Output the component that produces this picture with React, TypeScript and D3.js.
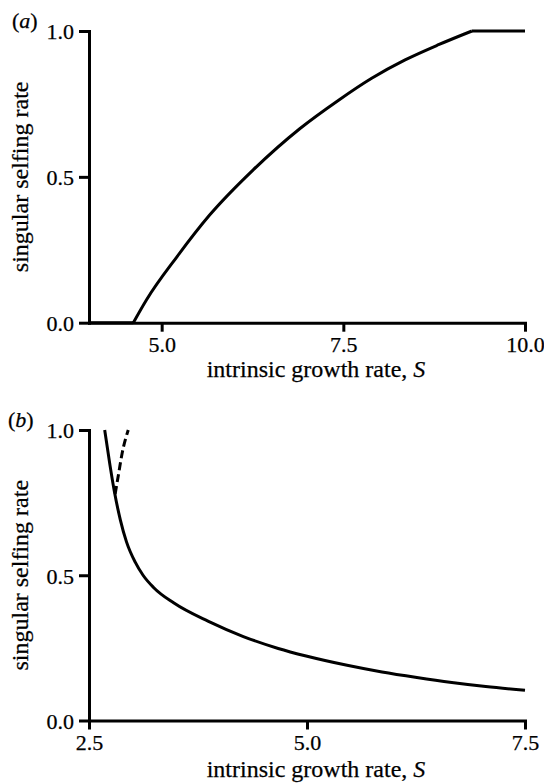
import React, { useRef, useEffect } from 'react';
import * as d3 from 'd3';

// panel (a): singular selfing rate vs intrinsic growth rate
const sA = [4.0, 4.61, 4.79, 5.21, 5.66, 6.26, 6.9, 7.43, 7.89, 8.35, 8.81, 9.27, 10.0];
const rateA = [0, 0, 0.078, 0.226, 0.369, 0.524, 0.665, 0.762, 0.838, 0.901, 0.953, 1.0, 1.0];

// panel (b): solid branch and dashed branch
const sB = [2.68, 2.74, 2.79, 2.86, 2.93, 3.03, 3.12, 3.24, 3.47, 3.87, 4.27, 4.67, 4.99, 5.46, 5.86, 6.26, 6.66, 7.05, 7.5];
const rateB = [1.0, 0.88, 0.79, 0.69, 0.615, 0.545, 0.5, 0.458, 0.405, 0.341, 0.289, 0.248, 0.222, 0.19, 0.167, 0.148, 0.131, 0.117, 0.104];
const sBDashed = [2.8, 2.84, 2.88, 2.95];
const rateBDashed = [0.78, 0.85, 0.92, 1.0];

const xTicksA = [5.0, 7.5, 10.0];
const xTicksB = [2.5, 5.0, 7.5];
const yTicks = [0, 0.5, 1.0];

const FONT = 'Liberation Serif, DejaVu Serif, serif';
const TICK_FS = 22;
const LABEL_FS = 24;
const INK = 0.25; // a touch of stroke so the serif text is as heavy as the scan

type Pt = [number, number];
const zip = (xs: number[], ys: number[]): Pt[] => xs.map((x, i) => [x, ys[i]]);

interface PanelProps {
    tag: string;
    tagX: number;
    xDomain: [number, number];
    xTicks: number[];
    top: number;
    bottom: number;
    labelGap: number;
    series: { pts: Pt[]; dashed?: boolean; curve?: d3.CurveFactory }[];
}

const LEFT = 89;
const RIGHT = 525;

const Panel: React.FC<PanelProps> = ({ tag, tagX, xDomain, xTicks, top, bottom, labelGap, series }) => {
    const xRef = useRef<SVGGElement>(null);
    const yRef = useRef<SVGGElement>(null);

    const x = d3.scaleLinear().domain(xDomain).range([LEFT, RIGHT]);
    const y = d3.scaleLinear().domain([0, 1]).range([bottom, top]);

    useEffect(() => {
        const fmt = d3.format('.1f');
        const gx = d3.select(xRef.current!);
        gx.selectAll('*').remove();
        gx.call(d3.axisBottom(x).tickValues(xTicks).tickSize(9).tickSizeOuter(0).tickPadding(5).tickFormat(d => fmt(d as number)));
        const gy = d3.select(yRef.current!);
        gy.selectAll('*').remove();
        gy.call(d3.axisLeft(y).tickValues(yTicks).tickSize(10).tickSizeOuter(0).tickPadding(5).tickFormat(d => fmt(d as number)));

        [gx, gy].forEach(g => {
            g.attr('font-family', FONT).attr('font-size', TICK_FS);
            g.selectAll('.domain').attr('stroke', '#000').attr('stroke-width', 3).attr('stroke-linecap', 'square');
            g.selectAll('.tick line').attr('stroke', '#000').attr('stroke-width', 3);
            g.selectAll('.tick text').attr('fill', '#000').attr('stroke', '#000').attr('stroke-width', INK);
        });
        gy.selectAll('.tick text').attr('dy', '0.36em');
    }, [xDomain, xTicks, top, bottom]);

    const midY = (top + bottom) / 2;

    return (
        <g>
            <text x={tagX} y={top - 3} fontFamily={FONT} fontSize={TICK_FS} stroke="#000" strokeWidth={INK}>
                (<tspan fontStyle="italic">{tag}</tspan>)
            </text>
            {series.map((s, i) => {
                const line = d3.line<Pt>()
                    .x(d => x(d[0]))
                    .y(d => y(d[1]))
                    .curve(s.curve ?? d3.curveMonotoneX);
                return (
                    <path
                        key={i}
                        d={line(s.pts) ?? ''}
                        fill="none"
                        stroke="#000"
                        strokeWidth={3}
                        strokeDasharray={s.dashed ? '8,4' : undefined}
                    />
                );
            })}
            <g ref={xRef} transform={`translate(0,${bottom})`} />
            <g ref={yRef} transform={`translate(${LEFT},0)`} />
            <text
                transform={`translate(28,${midY}) rotate(-90)`}
                textAnchor="middle"
                fontFamily={FONT}
                fontSize={LABEL_FS}
                stroke="#000"
                strokeWidth={INK}
            >
                singular selfing rate
            </text>
            <text
                x={316}
                y={bottom + labelGap}
                textAnchor="middle"
                fontFamily={FONT}
                fontSize={LABEL_FS}
                stroke="#000"
                strokeWidth={INK}
            >
                intrinsic growth rate, <tspan fontStyle="italic">S</tspan>
            </text>
        </g>
    );
};

export default function App() {
    const ptsA = zip(sA, rateA);
    return (
        <svg
            width={544}
            height={784}
            viewBox="0 0 544 784"
            style={{ position: 'absolute', left: 0, top: 0, background: '#fff' }}
        >
            <Panel
                tag="a"
                tagX={12}
                xDomain={[4, 10]}
                xTicks={xTicksA}
                top={31}
                bottom={322.7}
                labelGap={54}
                series={[
                    { pts: ptsA.slice(0, 2), curve: d3.curveLinear },
                    { pts: ptsA.slice(1, 12) },
                    { pts: ptsA.slice(11), curve: d3.curveLinear },
                ]}
            />
            <Panel
                tag="b"
                tagX={8}
                xDomain={[2.5, 7.5]}
                xTicks={xTicksB}
                top={430}
                bottom={720.5}
                labelGap={56.5}
                series={[
                    { pts: zip(sB, rateB) },
                    { pts: zip(sBDashed, rateBDashed), dashed: true },
                ]}
            />
        </svg>
    );
}
